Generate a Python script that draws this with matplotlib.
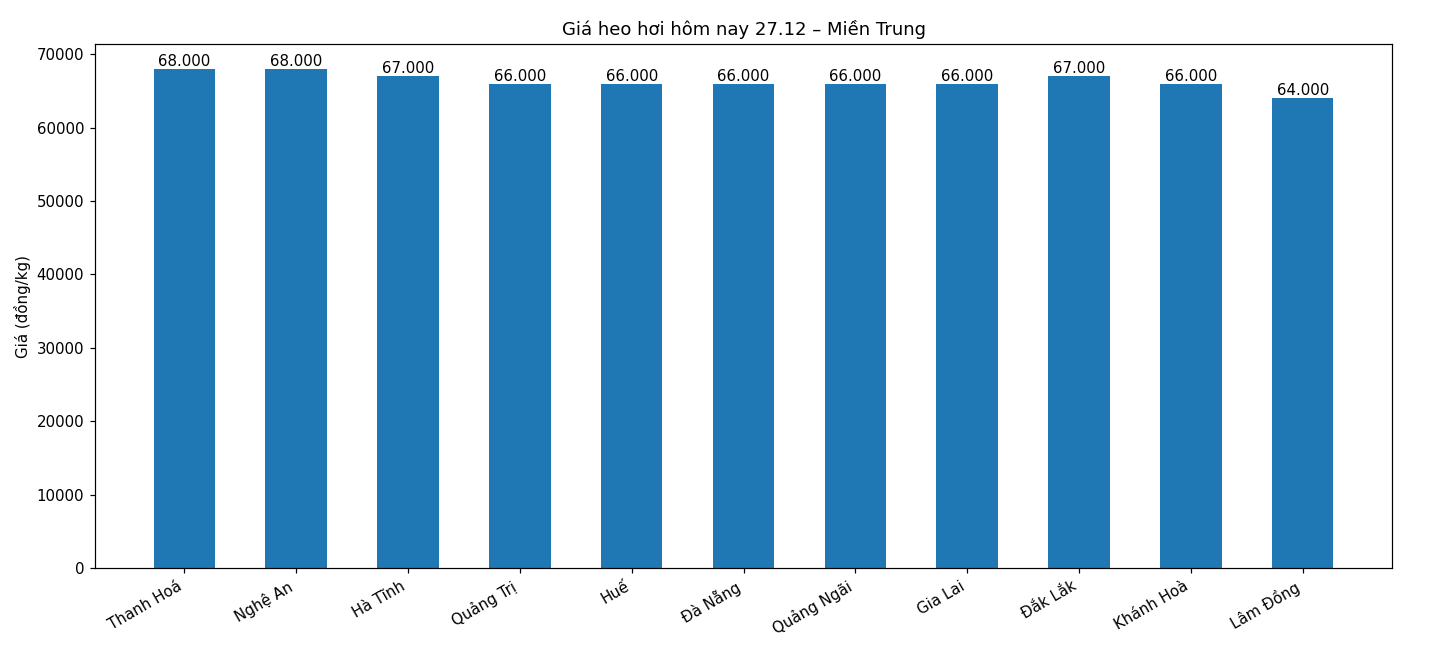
import matplotlib
matplotlib.use("Agg")
import matplotlib.pyplot as plt

provinces = ["Thanh Hoá", "Nghệ An", "Hà Tĩnh", "Quảng Trị", "Huế", "Đà Nẵng",
             "Quảng Ngãi", "Gia Lai", "Đắk Lắk", "Khánh Hoà", "Lâm Đồng"]
prices = [68000, 68000, 67000, 66000, 66000, 66000, 66000, 66000, 67000, 66000, 64000]
title = "Giá heo hơi hôm nay 27.12 – Miền Trung"
ylabel = "Giá (đồng/kg)"

DPI = 108
plt.rcParams['font.family'] = ['DejaVu Sans']
fig, ax = plt.subplots(figsize=(1434 / DPI, 656 / DPI), dpi=DPI)
bars = ax.bar(provinces, prices, width=0.55, color="#1f77b4")
labels = [f"{v:,}".replace(",", ".") for v in prices]
ax.bar_label(bars, labels=labels, fontsize=10, padding=0)
ax.set_title(title, fontsize=12)
ax.set_ylabel(ylabel)
plt.setp(ax.get_xticklabels(), rotation=30, ha="right")
fig.subplots_adjust(left=0.066, right=0.971, top=0.933, bottom=0.134)
fig.savefig("out.png", dpi=DPI)
